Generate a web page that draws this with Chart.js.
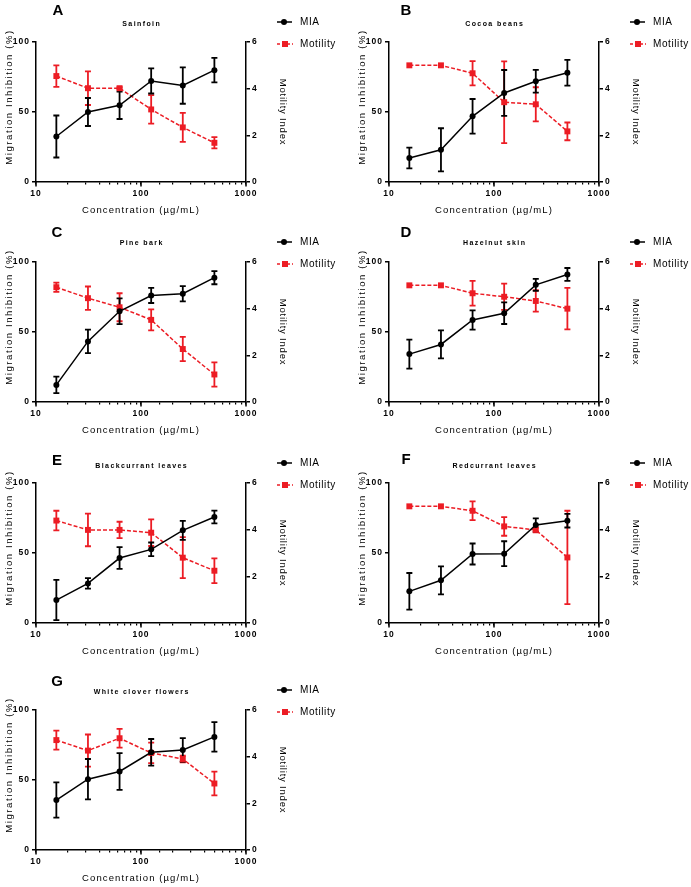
<!DOCTYPE html>
<html>
<head>
<meta charset="utf-8">
<script src="https://cdn.jsdelivr.net/npm/chart.js@4.4.0/dist/chart.umd.min.js"></script>
<style>
  body { margin: 0; background: #fff; width: 691px; height: 887px; overflow: hidden; position: relative; }
  canvas { position: absolute; }
</style>
</head>
<body>
<canvas id="pA" width="338" height="220" style="left:0px;top:0px"></canvas>
<canvas id="pB" width="338" height="220" style="left:353px;top:0px"></canvas>
<canvas id="pC" width="338" height="220" style="left:0px;top:220px"></canvas>
<canvas id="pD" width="338" height="220" style="left:353px;top:220px"></canvas>
<canvas id="pE" width="338" height="220" style="left:0px;top:441px"></canvas>
<canvas id="pF" width="338" height="220" style="left:353px;top:441px"></canvas>
<canvas id="pG" width="338" height="220" style="left:0px;top:668px"></canvas>
<script>
// concentrations (µg/mL)
const concentrations = [15.625, 31.25, 62.5, 125, 250, 500];
const xTickLabels = [10, 100, 1000];

// MIA (%) and motility index, mean and error
const sainfoinMIA = [32.5, 50, 54.8, 72.2, 68.9, 79.9];
const sainfoinMIAErr = [15, 10, 9.8, 9, 13, 8.7];
const sainfoinMot = [4.54, 4.02, 4.02, 3.11, 2.34, 1.68];
const sainfoinMotErr = [0.46, 0.72, 0.05, 0.61, 0.62, 0.24];

const cocoaMIA = [17.2, 23, 46.9, 63.6, 72, 78];
const cocoaMIAErr = [7.4, 15.4, 12.4, 16.4, 8.1, 9.2];
const cocoaMot = [5, 5, 4.66, 3.42, 3.33, 2.17];
const cocoaMotErr = [0, 0, 0.52, 1.75, 0.73, 0.38];

const pineMIA = [12.2, 43.3, 64.8, 76.1, 77.3, 88.8];
const pineMIAErr = [5.9, 8.4, 9.2, 5.4, 5.4, 4.7];
const pineMot = [4.92, 4.45, 4.06, 3.52, 2.27, 1.18];
const pineMotErr = [0.2, 0.5, 0.6, 0.45, 0.52, 0.52];

const hazelMIA = [34.2, 41.1, 58.6, 63.4, 83.7, 91.1];
const hazelMIAErr = [10.3, 10, 6.9, 7.7, 4.3, 4.6];
const hazelMot = [5, 5, 4.66, 4.51, 4.33, 4.0];
const hazelMotErr = [0, 0, 0.53, 0.56, 0.46, 0.89];

const blackMIA = [16.4, 28.3, 46.4, 52.6, 66.2, 75.7];
const blackMIAErr = [14.4, 3.8, 7.8, 4.9, 6.8, 4.5];
const blackMot = [4.39, 3.99, 3.99, 3.87, 2.8, 2.24];
const blackMotErr = [0.42, 0.7, 0.35, 0.57, 0.88, 0.53];

const redMIA = [22.6, 30.5, 49.3, 49.5, 70, 73.1];
const redMIAErr = [13.1, 10, 7.5, 8.9, 4.8, 4.9];
const redMot = [5, 5, 4.81, 4.14, 3.99, 2.81];
const redMotErr = [0, 0, 0.4, 0.4, 0.1, 2.0];

const cloverMIA = [35.7, 50.6, 56.1, 69.8, 71.5, 80.8];
const cloverMIAErr = [12.6, 14.4, 13.1, 9.5, 8.4, 10.5];
const cloverMot = [4.71, 4.26, 4.79, 4.16, 3.9, 2.85];
const cloverMotErr = [0.41, 0.69, 0.4, 0.44, 0.14, 0.51];

const FONT = '"Liberation Sans", Arial, sans-serif';
const RED = '#ec1c24';

const panels = [
  { id: 'pA', letter: 'A', title: 'Sainfoin', mia: sainfoinMIA, miaErr: sainfoinMIAErr, mot: sainfoinMot, motErr: sainfoinMotErr, letterDy: -31, titleDy: -18, letterDx: 22 },
  { id: 'pB', letter: 'B', title: 'Cocoa beans', mia: cocoaMIA, miaErr: cocoaMIAErr, mot: cocoaMot, motErr: cocoaMotErr, letterDy: -31, titleDy: -18, letterDx: 17 },
  { id: 'pC', letter: 'C', title: 'Pine bark', mia: pineMIA, miaErr: pineMIAErr, mot: pineMot, motErr: pineMotErr, letterDy: -29, titleDy: -19, letterDx: 21 },
  { id: 'pD', letter: 'D', title: 'Hazelnut skin', mia: hazelMIA, miaErr: hazelMIAErr, mot: hazelMot, motErr: hazelMotErr, letterDy: -29, titleDy: -19, letterDx: 17 },
  { id: 'pE', letter: 'E', title: 'Blackcurrant leaves', mia: blackMIA, miaErr: blackMIAErr, mot: blackMot, motErr: blackMotErr, letterDy: -22, titleDy: -17, letterDx: 21 },
  { id: 'pF', letter: 'F', title: 'Redcurrant leaves', mia: redMIA, miaErr: redMIAErr, mot: redMot, motErr: redMotErr, letterDy: -23, titleDy: -17, letterDx: 17 },
  { id: 'pG', letter: 'G', title: 'White clover flowers', mia: cloverMIA, miaErr: cloverMIAErr, mot: cloverMot, motErr: cloverMotErr, letterDy: -28, titleDy: -18, letterDx: 21 }
];

// error bars drawn under the markers
const errorBars = {
  id: 'errorBars',
  beforeDatasetsDraw(chart) {
    const ctx = chart.ctx;
    ctx.letterSpacing = '0px';
    const xs = chart.scales.x;
    // longer ticks at the decades
    ctx.save();
    ctx.strokeStyle = '#000';
    ctx.lineWidth = 1.5;
    xTickLabels.forEach(v => {
      const px = xs.getPixelForValue(v);
      ctx.beginPath();
      ctx.moveTo(px, chart.chartArea.bottom);
      ctx.lineTo(px, chart.chartArea.bottom + 4.5);
      ctx.stroke();
    });
    ctx.restore();
    [1, 0].forEach(i => {
      const ds = chart.data.datasets[i];
      const ys = chart.scales[ds.yAxisID];
      ctx.save();
      ctx.strokeStyle = ds.borderColor;
      ctx.lineWidth = 1.8;
      ds.data.forEach((p, j) => {
        const e = ds.errors[j];
        if (!e) return;
        const px = xs.getPixelForValue(p.x);
        const top = ys.getPixelForValue(p.y + e);
        const bot = ys.getPixelForValue(p.y - e);
        ctx.beginPath();
        ctx.moveTo(px, top); ctx.lineTo(px, bot);
        ctx.moveTo(px - 3, top); ctx.lineTo(px + 3, top);
        ctx.moveTo(px - 3, bot); ctx.lineTo(px + 3, bot);
        ctx.stroke();
      });
      ctx.restore();
    });
  }
};

// letter, title, axis titles and legend
const decorations = {
  id: 'decorations',
  beforeDraw(chart) {
    chart.ctx.letterSpacing = '1px';
  },
  afterDraw(chart, args, opts) {
    const ctx = chart.ctx;
    const a = chart.chartArea;
    const cx = (a.left + a.right) / 2;
    ctx.save();
    ctx.fillStyle = '#000';
    ctx.textBaseline = 'middle';

    ctx.letterSpacing = '0px';
    ctx.font = 'bold 15px ' + FONT;
    ctx.textAlign = 'center';
    ctx.fillText(opts.letter, a.left + opts.letterDx, a.top + opts.letterDy);

    ctx.letterSpacing = '1.4px';
    ctx.font = 'bold 7px ' + FONT;
    ctx.fillText(opts.title, cx + 0.7, a.top + opts.titleDy);

    ctx.letterSpacing = '1.1px';
    ctx.font = '9.5px ' + FONT;
    ctx.fillText('Concentration (µg/mL)', cx, a.bottom + 28);

    ctx.save();
    ctx.translate(a.left - 27, (a.top + a.bottom) / 2 - 15);
    ctx.rotate(-Math.PI / 2);
    ctx.letterSpacing = '1.6px';
    ctx.font = '9.5px ' + FONT;
    ctx.fillText('Migration Inhibition (%)', 0, 0);
    ctx.restore();

    ctx.save();
    ctx.translate(a.right + 37, (a.top + a.bottom) / 2);
    ctx.rotate(Math.PI / 2);
    ctx.letterSpacing = '0.8px';
    ctx.font = '9.5px ' + FONT;
    ctx.fillText('Motility Index', 0, 0);
    ctx.restore();

    // legend
    const lx = a.right + 31;
    const y1 = a.top - 20, y2 = a.top + 2;
    ctx.lineWidth = 1.5;
    ctx.strokeStyle = '#000';
    ctx.beginPath(); ctx.moveTo(lx, y1); ctx.lineTo(lx + 15, y1); ctx.stroke();
    ctx.beginPath(); ctx.arc(lx + 7, y1, 3, 0, Math.PI * 2); ctx.fill();
    ctx.strokeStyle = RED;
    ctx.setLineDash([3, 2]);
    ctx.beginPath(); ctx.moveTo(lx, y2); ctx.lineTo(lx + 16, y2); ctx.stroke();
    ctx.setLineDash([]);
    ctx.fillStyle = RED;
    ctx.fillRect(lx + 5, y2 - 3, 6, 6);
    ctx.fillStyle = '#000';
    ctx.textAlign = 'left';
    ctx.letterSpacing = '0.6px';
    ctx.font = '10px ' + FONT;
    ctx.fillText('MIA', lx + 23, y1);
    ctx.fillText('Motility', lx + 23, y2);
    ctx.restore();
    ctx.letterSpacing = '0px';
  }
};

function makePanel(p) {
  const ctx = document.getElementById(p.id).getContext('2d');
  new Chart(ctx, {
    type: 'line',
    data: {
      datasets: [{
        label: 'MIA',
        data: concentrations.map((c, i) => ({ x: c, y: p.mia[i] })),
        errors: p.miaErr,
        yAxisID: 'y',
        borderColor: '#000',
        backgroundColor: '#000',
        borderWidth: 1.5,
        pointStyle: 'circle',
        pointRadius: 3,
        pointBorderWidth: 0,
        tension: 0
      }, {
        label: 'Motility',
        data: concentrations.map((c, i) => ({ x: c, y: p.mot[i] })),
        errors: p.motErr,
        yAxisID: 'y2',
        borderColor: RED,
        backgroundColor: RED,
        borderWidth: 1.5,
        borderDash: [4, 2],
        pointStyle: 'rect',
        pointRadius: 4.2,
        pointBorderWidth: 0,
        tension: 0
      }]
    },
    options: {
      responsive: false,
      animation: false,
      devicePixelRatio: 1,
      layout: { padding: { top: 42, left: 0, right: 47, bottom: 0 } },
      plugins: {
        legend: { display: false },
        tooltip: { enabled: false },
        decorations: p
      },
      scales: {
        x: {
          type: 'logarithmic',
          min: 10,
          max: 1000,
          afterFit(s) { s.height = 38; },
          border: { color: '#000', width: 1.5 },
          grid: {
            drawOnChartArea: false,
            tickLength: 2.5,
            color: '#000',
            lineWidth: 1.2
          },
          ticks: {
            autoSkip: false,
            maxRotation: 0,
            padding: 4,
            color: '#000',
            font: { family: FONT, size: 8.5, weight: 'bold' },
            callback: v => xTickLabels.includes(v) ? String(v) : ''
          }
        },
        y: {
          position: 'left',
          min: 0,
          max: 100,
          afterFit(s) { s.width = 36; },
          border: { color: '#000', width: 1.5 },
          grid: { drawOnChartArea: false, tickLength: 4, color: '#000', lineWidth: 1.5 },
          ticks: {
            stepSize: 50,
            padding: 2,
            color: '#000',
            font: { family: FONT, size: 8.5, weight: 'bold' }
          }
        },
        y2: {
          position: 'right',
          min: 0,
          max: 6,
          afterFit(s) { s.width = 45; },
          border: { color: '#000', width: 1.5 },
          grid: { drawOnChartArea: false, tickLength: 4, color: '#000', lineWidth: 1.5 },
          ticks: {
            stepSize: 2,
            padding: 2,
            color: '#000',
            font: { family: FONT, size: 8.5, weight: 'bold' }
          }
        }
      }
    },
    plugins: [errorBars, decorations]
  });
}

panels.forEach(makePanel);
</script>
</body>
</html>
